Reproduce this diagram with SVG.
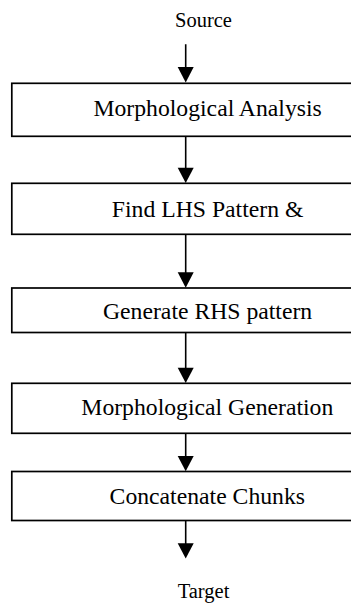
<svg xmlns="http://www.w3.org/2000/svg" width="351" height="603" viewBox="0 0 351 603">
  <style>
    .box { fill: #ffffff; stroke: #000000; stroke-width: 1.7; }
    .lbl { font-family: "Liberation Serif", "Times New Roman", serif; font-size: 23.7px; fill: #000000; text-anchor: middle; }
    .term { font-family: "Liberation Serif", "Times New Roman", serif; font-size: 20.5px; fill: #000000; text-anchor: middle; }
    .edge { stroke: #000000; stroke-width: 1.6; fill: none; }
    .head { fill: #000000; stroke: none; }
  </style>
  <rect width="351" height="603" fill="#ffffff"/>

  <!-- terminal labels -->
  <g id="source"><text class="term" x="203.5" y="26.7">Source</text></g>
  <g id="target"><text class="term" x="203.5" y="598">Target</text></g>

  <!-- processing stages -->
  <g id="morph-analysis">
    <rect class="box" x="11.8" y="83.3" width="400" height="53"/>
    <text class="lbl" x="207.6" y="116">Morphological Analysis</text>
  </g>
  <g id="find-lhs">
    <rect class="box" x="11.8" y="183.3" width="400" height="51"/>
    <text class="lbl" x="207.6" y="216.5">Find LHS Pattern &amp;</text>
  </g>
  <g id="generate-rhs">
    <rect class="box" x="11.8" y="288" width="400" height="44.5"/>
    <text class="lbl" x="207.6" y="319.3">Generate RHS pattern</text>
  </g>
  <g id="morph-generation">
    <rect class="box" x="11.8" y="383.3" width="400" height="50"/>
    <text class="lbl" x="207.3" y="415">Morphological Generation</text>
  </g>
  <g id="concat-chunks">
    <rect class="box" x="11.8" y="471.5" width="400" height="49"/>
    <text class="lbl" x="207.3" y="504">Concatenate Chunks</text>
  </g>

  <!-- connectors -->
  <g id="connectors">
    <path class="edge" d="M185.7 44.3V68 M185.7 137V169 M185.7 234.3V273 M185.7 332.5V369 M185.7 433.3V457 M185.7 520.5V545"/>
    <path class="head" d="M177.7 67 L193.7 67 L185.7 82.5 Z"/>
    <path class="head" d="M177.7 167.7 L193.7 167.7 L185.7 183 Z"/>
    <path class="head" d="M177.7 272.3 L193.7 272.3 L185.7 287.8 Z"/>
    <path class="head" d="M177.7 367.7 L193.7 367.7 L185.7 383 Z"/>
    <path class="head" d="M177.7 456 L193.7 456 L185.7 471.3 Z"/>
    <path class="head" d="M177.7 543.3 L193.7 543.3 L185.7 558.5 Z"/>
  </g>
</svg>
